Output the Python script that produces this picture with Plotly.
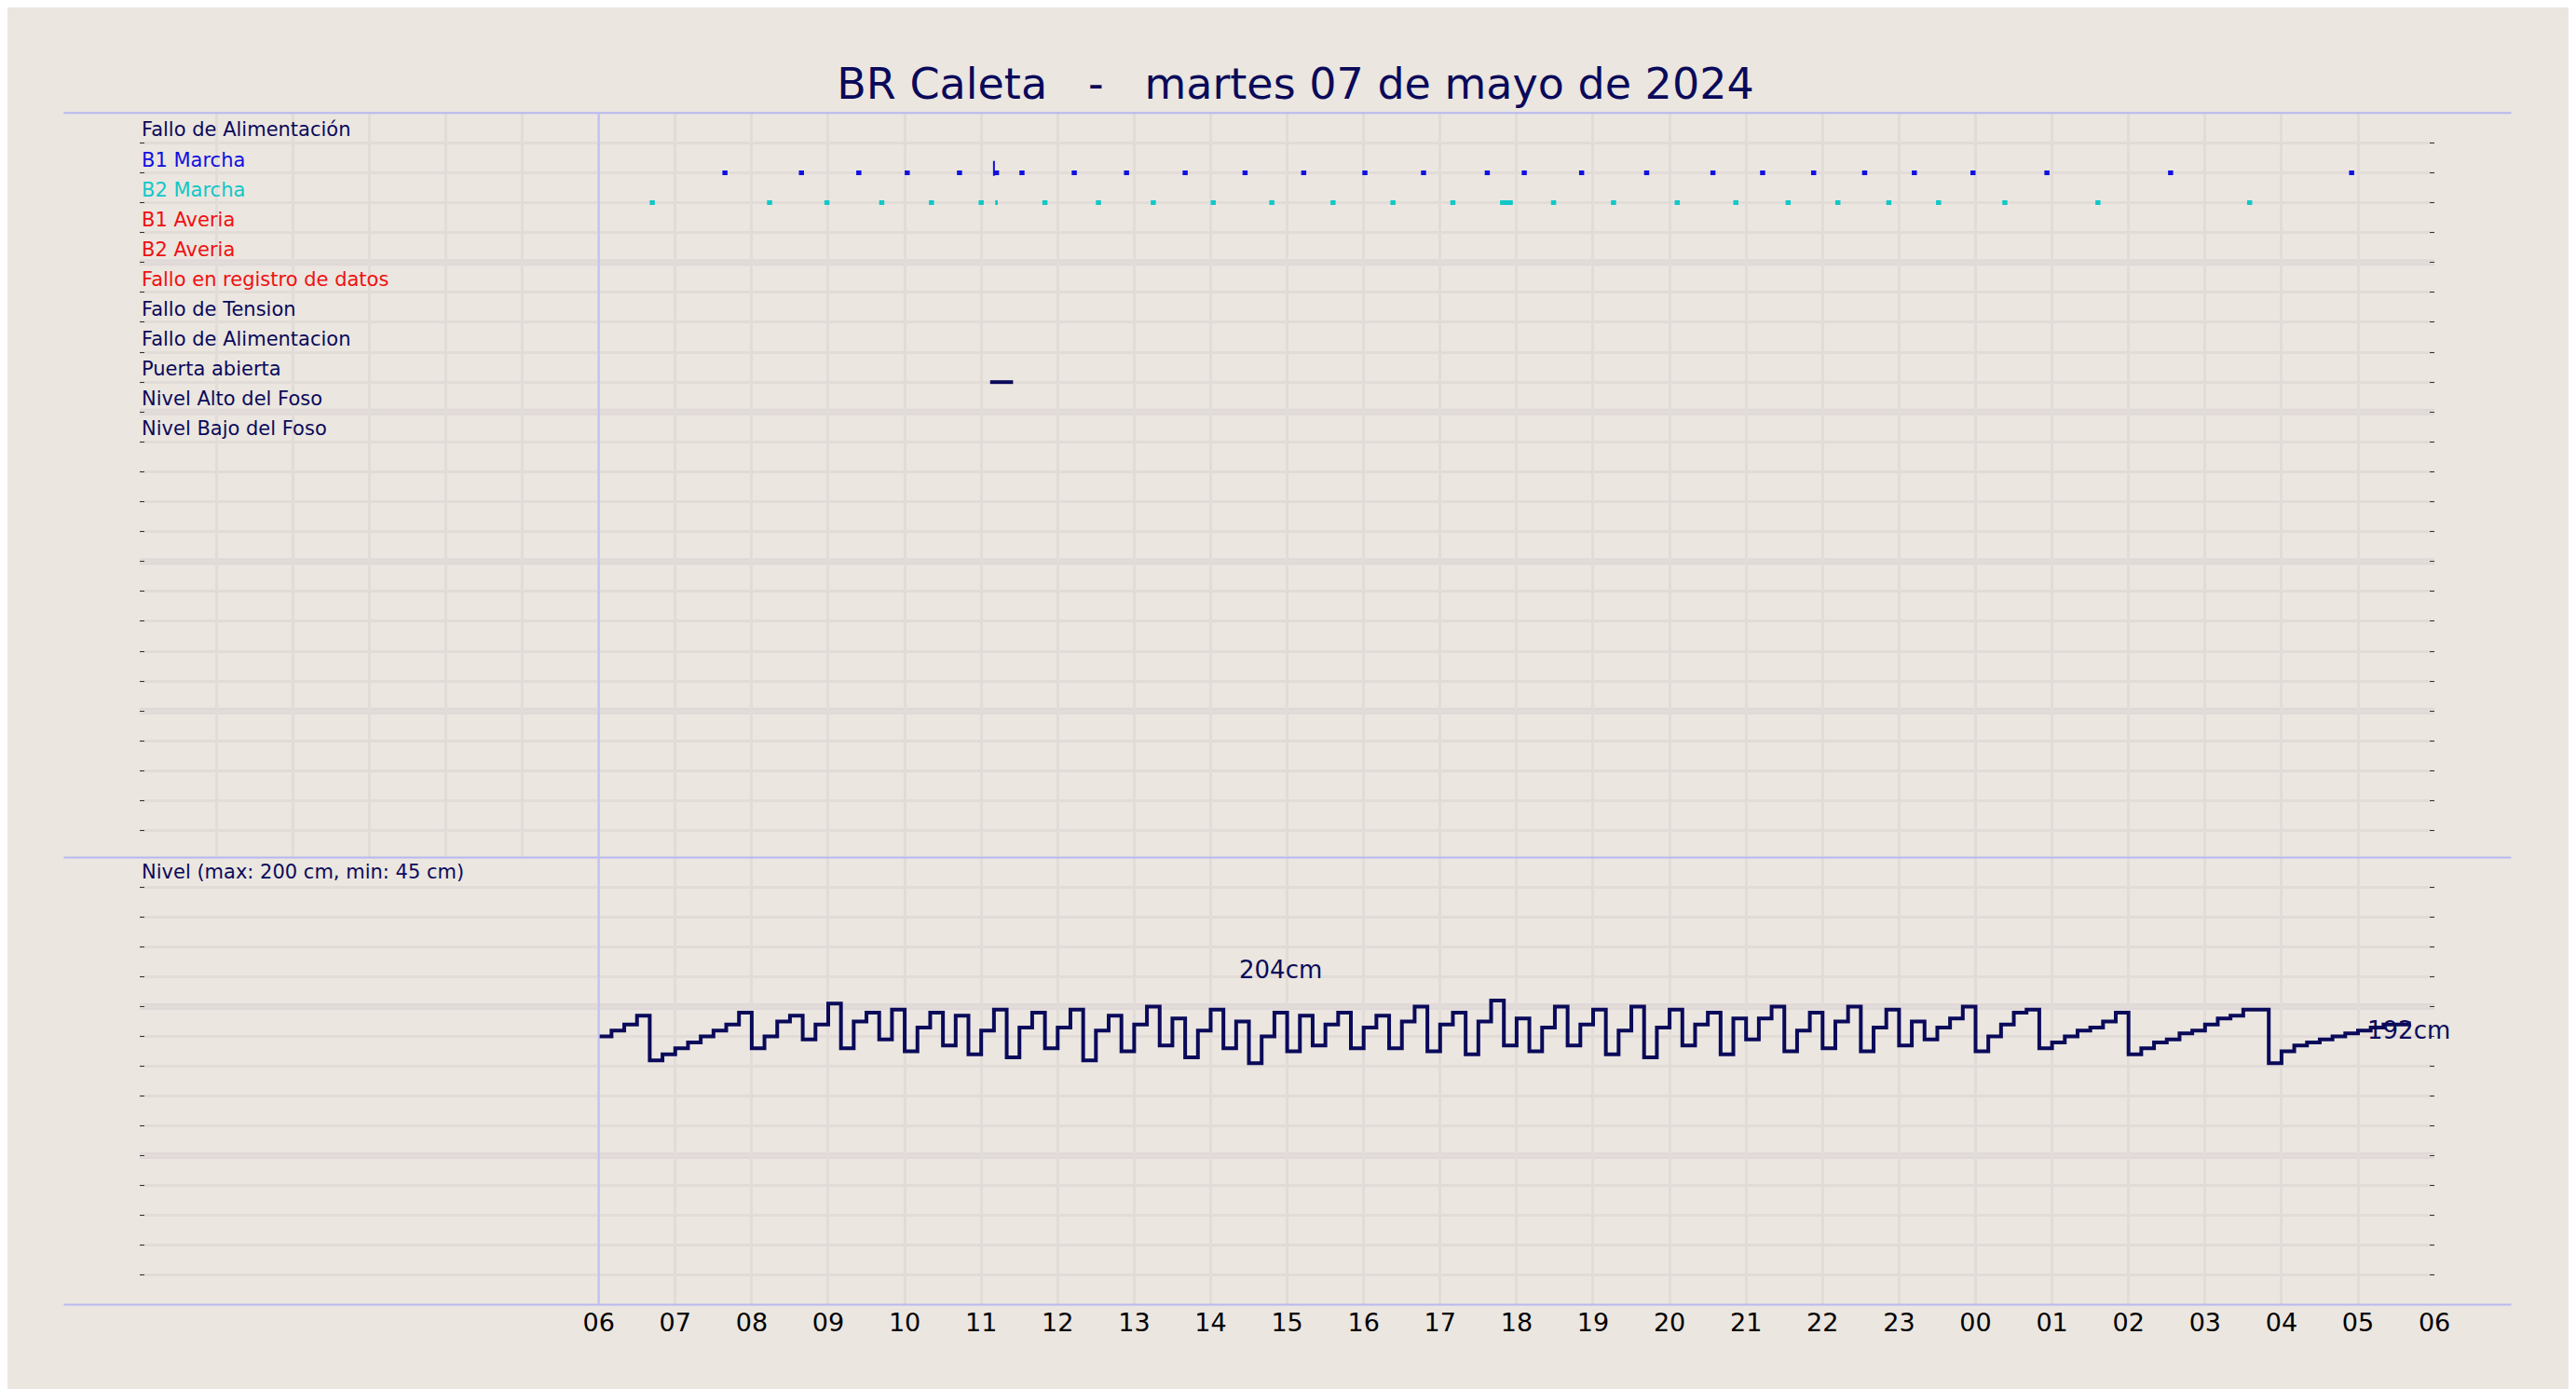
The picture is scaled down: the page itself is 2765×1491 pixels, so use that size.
import pandas as pd
import plotly.graph_objects as go

TITLE = "BR Caleta   -   martes 07 de mayo de 2024"

ROW_LABELS = ["Fallo de Alimentación", "B1 Marcha", "B2 Marcha", "B1 Averia", "B2 Averia",
              "Fallo en registro de datos", "Fallo de Tension", "Fallo de Alimentacion",
              "Puerta abierta", "Nivel Alto del Foso", "Nivel Bajo del Foso"]
ROW_COLORS = ["#0a0a5a", "#1010e0", "#10c8c8", "#f01010", "#f01010", "#f01010",
              "#0a0a5a", "#0a0a5a", "#0a0a5a", "#0a0a5a", "#0a0a5a"]

# event start times (row 1 = B1 Marcha, row 2 = B2 Marcha, row 8 = Puerta abierta)
B1_ON = ["05-06 07:37", "05-06 08:37", "05-06 09:22", "05-06 10:00", "05-06 10:41", "05-06 11:10",
         "05-06 11:30", "05-06 12:11", "05-06 12:52", "05-06 13:38", "05-06 14:25", "05-06 15:11",
         "05-06 15:59", "05-06 16:45", "05-06 17:35", "05-06 18:04", "05-06 18:49", "05-06 19:40",
         "05-06 20:32", "05-06 21:11", "05-06 21:51", "05-06 22:31", "05-06 23:10", "05-06 23:56",
         "05-07 00:54", "05-07 02:31", "05-07 04:53"]
B2_ON = ["05-06 06:40", "05-06 08:12", "05-06 08:57", "05-06 09:40", "05-06 10:19", "05-06 10:58",
         "05-06 11:11", "05-06 11:48", "05-06 12:30", "05-06 13:13", "05-06 14:00", "05-06 14:46",
         "05-06 15:34", "05-06 16:21", "05-06 17:08", "05-06 17:47", "05-06 18:27", "05-06 19:14",
         "05-06 20:04", "05-06 20:50", "05-06 21:31", "05-06 22:10", "05-06 22:50", "05-06 23:29",
         "05-07 00:21", "05-07 01:34", "05-07 03:33"]
B2_MIN = [4, 4, 4, 4, 4, 4, 2, 4, 4, 4, 4, 4, 4, 4, 4, 10, 4, 4, 4, 4, 4, 4, 4, 4, 4, 4, 4]
DOOR = ("05-06 11:07", "05-06 11:25")

# level every 10 minutes from 06:00 to 06:00
LEVEL = [190, 192, 194, 197, 182, 184, 186, 188, 190, 192, 194, 198, 186, 190, 195, 197,
         189, 194, 201, 186, 195, 198, 189, 199, 185, 193, 198, 187, 197, 184, 192, 199,
         183, 193, 198, 186, 193, 199, 182, 192, 197, 185, 194, 200, 187, 196, 183, 192,
         199, 186, 195, 181, 190, 198, 185, 197, 187, 194, 198, 186, 193, 197, 186, 195,
         200, 185, 194, 198, 184, 195, 202, 187, 196, 185, 193, 200, 187, 194, 199, 184,
         192, 200, 183, 193, 199, 187, 194, 198, 184, 196, 189, 196, 200, 185, 192, 198,
         186, 195, 200, 185, 193, 199, 187, 195, 189, 193, 196, 200, 185, 190, 194, 198,
         199, 186, 188, 190, 192, 193, 195, 198, 184, 186, 188, 189, 191, 192, 194, 196,
         197, 199, 199, 181, 185, 187, 188, 189, 190, 191, 192, 193, 194, 194, 195]
LEVEL_TIMES = pd.date_range("2024-05-06 06:00", periods=len(LEVEL), freq="10min")

HOURS = pd.date_range("2024-05-06 00:00", "2024-05-07 06:00", freq="1h")
TICKS = pd.date_range("2024-05-06 06:00", "2024-05-07 06:00", freq="1h")

NAVY = "#0a0a5a"
BG = "#ebe6e0"
GRID = "#e2dcd8"

def ts(s):
    return pd.Timestamp("2024-" + s)

fig = go.Figure()

# --- event rows ---
def add_events(starts, mins, row, color, width=5):
    xs, ys = [], []
    for s, m in zip(starts, mins):
        t = ts(s)
        xs += [t, t + pd.Timedelta(minutes=m), None]
        ys += [row, row, None]
    fig.add_trace(go.Scatter(x=xs, y=ys, mode="lines", line=dict(color=color, width=width),
                             showlegend=False, xaxis="x", yaxis="y"))

add_events(B1_ON, [4] * len(B1_ON), 1, "#1010e0")
add_events(B2_ON, B2_MIN, 2, "#10c8c8")
fig.add_trace(go.Scatter(x=[ts("05-06 11:10"), ts("05-06 11:10")], y=[0.6, 1.1], mode="lines",
                         line=dict(color="#1010e0", width=2), showlegend=False))
fig.add_trace(go.Scatter(x=[ts(DOOR[0]), ts(DOOR[1])], y=[8, 8], mode="lines",
                         line=dict(color=NAVY, width=4), showlegend=False))

# --- level ---
fig.add_trace(go.Scatter(x=LEVEL_TIMES, y=LEVEL, mode="lines", line=dict(color=NAVY, width=4, shape="hv"),
                         showlegend=False, xaxis="x2", yaxis="y2"))

x0, x1 = HOURS[0], HOURS[-1]
xax = dict(range=[x0, x1], showgrid=True, gridcolor=GRID, gridwidth=3, dtick=3600000,
           tick0=x0, zeroline=False, showline=False)
fig.update_layout(
    width=2765, height=1491, paper_bgcolor=BG, plot_bgcolor=BG,
    margin=dict(l=0, r=0, t=0, b=0),
    title=dict(text=TITLE, x=0.5, y=0.945, xanchor="center", yanchor="middle",
               font=dict(family="DejaVu Sans", size=46, color=NAVY)),
    font=dict(family="DejaVu Sans", color="black"),
    xaxis=dict(xax, domain=[0.0517, 0.948], anchor="y", showticklabels=False),
    yaxis=dict(domain=[0.388, 0.924], range=[23.9, -1], tickvals=list(range(24)), showticklabels=False,
               ticks="inside", ticklen=5, tickcolor="#333", gridcolor=GRID, gridwidth=3,
               zeroline=False, mirror="ticks", showline=False),
    xaxis2=dict(xax, domain=[0.0517, 0.948], anchor="y2", tickvals=list(TICKS),
                ticktext=[t.strftime("%H") for t in TICKS], tickfont=dict(size=27, color="black"),
                ticks=""),
    yaxis2=dict(domain=[0.066, 0.388], range=[100, 250], dtick=10, showticklabels=False,
                ticks="inside", ticklen=5, tickcolor="#333", gridcolor=GRID, gridwidth=3,
                zeroline=False, mirror="ticks"),
)

for i, (lab, col) in enumerate(zip(ROW_LABELS, ROW_COLORS)):
    fig.add_annotation(x=0, xref="x domain", y=i, yref="y", text=lab, showarrow=False,
                       xanchor="left", yanchor="bottom", font=dict(size=21, color=col))
fig.add_annotation(x=0, xref="x2 domain", y=245, yref="y2", text="Nivel (max: 200 cm, min: 45 cm)",
                   showarrow=False, xanchor="left", yanchor="middle", font=dict(size=21, color=NAVY))
fig.add_annotation(x=ts("05-06 14:55"), xref="x2", y=207, yref="y2", text="204cm", showarrow=False,
                   yanchor="bottom", font=dict(size=26, color=NAVY))
fig.add_annotation(x=ts("05-07 05:40"), xref="x2", y=192, yref="y2", text="192cm", showarrow=False,
                   font=dict(size=26, color=NAVY))

# thicker grid rows
for r in [4, 9, 14, 19]:
    fig.add_shape(type="line", xref="x domain", yref="y", x0=0, x1=1, y0=r, y1=r,
                  line=dict(color="#e0d8d8", width=7), layer="below")
for v in [150, 200]:
    fig.add_shape(type="line", xref="x2 domain", yref="y2", x0=0, x1=1, y0=v, y1=v,
                  line=dict(color="#e0d8d8", width=7), layer="below")
# panel separators
for yy in [0.924, 0.388, 0.066]:
    fig.add_shape(type="line", xref="paper", yref="paper", x0=0.022, x1=0.978, y0=yy, y1=yy,
                  line=dict(color="#b8b8f0", width=2))
fig.add_shape(type="line", xref="x2", yref="paper", x0=TICKS[0], x1=TICKS[0], y0=0.066, y1=0.924,
              line=dict(color="#c0c0f0", width=2))

fig.write_html("out.html")
